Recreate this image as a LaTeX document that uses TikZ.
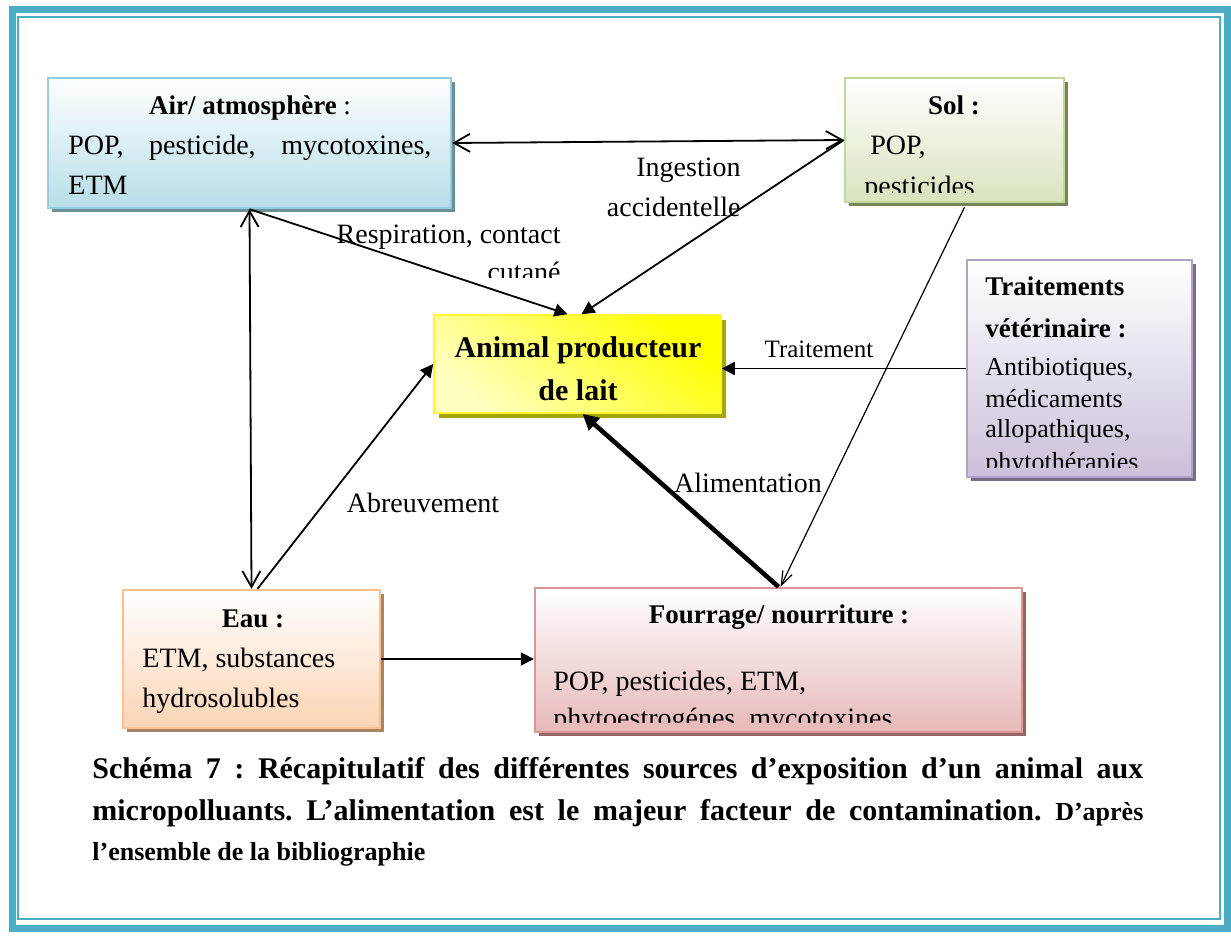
\documentclass[tikz,border=0pt]{standalone}
\usepackage{fontspec}
\setmainfont{Liberation Serif}
\usetikzlibrary{arrows.meta,fit,shadows}
\frenchspacing

\definecolor{cadre}{HTML}{4BACC6}
\definecolor{airB}{HTML}{93CDDD}\definecolor{airF}{HTML}{B7DEE8}\definecolor{airS}{HTML}{6A8F99}
\definecolor{solB}{HTML}{C3D69B}\definecolor{solF}{HTML}{D7E4BD}\definecolor{solS}{HTML}{77855C}
\definecolor{vetB}{HTML}{B2A1C7}\definecolor{vetF}{HTML}{CCC0DA}\definecolor{vetS}{HTML}{776C85}
\definecolor{eauB}{HTML}{FAC090}\definecolor{eauF}{HTML}{FBD4B4}\definecolor{eauS}{HTML}{A68466}
\definecolor{fouB}{HTML}{D99694}\definecolor{fouF}{HTML}{E6B9B8}\definecolor{fouS}{HTML}{946665}
\definecolor{laitS}{HTML}{A6A600}

\tikzset{
  source/.style={draw=#1B, line width=1.2pt, top color=white, bottom color=#1F, inner sep=0pt,
    general shadow={fill=#1S, shadow xshift=2pt, shadow yshift=-2pt}},
  txt/.style={font=\fontsize{14}{16}\selectfont, inner sep=0pt},
  tit/.style={font=\fontsize{13.5}{16}\selectfont\bfseries, inner sep=0pt},
  petit/.style={font=\fontsize{13}{16}\selectfont, inner sep=0pt},
  legende/.style={font=\fontsize{15}{20}\selectfont\bfseries, inner sep=0pt},
  fl/.style={line width=0.9pt, -{Triangle[length=6.5pt,width=6.5pt]}},
  dbl/.style={line width=0.9pt, {Straight Barb[length=8pt,width=9pt]}-{Straight Barb[length=8pt,width=9pt]}},
  fin/.style={line width=0.6pt, -{Straight Barb[length=7pt,width=5pt]}}
}

\begin{document}
\begin{tikzpicture}[x=0.5pt, y=-0.5pt]
\useasboundingbox (0,0) rectangle (1231,936);
\draw[cadre, line width=3.5pt] (12,9.5) rectangle (1227,928);
\draw[cadre, line width=1pt] (18,17) rectangle (1220,919);

% boites
\node[source=air, fit={(48,78) (451,208)}] (air) {};
\node[source=sol, fit={(845,78) (1064,202)}] (sol) {};
\node[source=vet, fit={(967,260) (1192,477)}] (vet) {};
\node[source=eau, fit={(123,590) (380,728)}] (eau) {};
\node[source=fou, fit={(535,588) (1022,732)}] (fourrage) {};
\node[fit={(434,315) (721,413)}, inner sep=0pt, draw=yellow!80!white, line width=0.8pt,
  top color=yellow, bottom color=yellow!25, shading angle=-40,
  general shadow={fill=laitS, shadow xshift=2.5pt, shadow yshift=-2.5pt}] (animal) {};

% textes des boites
\node[tit, anchor=base] (airT) at (250,115) {Air/ atmosphère \mdseries:};
\node[txt, anchor=base west] (airA) at (68,155) {\makebox[181.5pt][s]{POP, pesticide, mycotoxines,}};
\node[txt, anchor=base west] (airB) at (68,195) {ETM};

\node[tit, anchor=base] (solT) at (954,115) {Sol :};
\node[txt, anchor=base west] (solA) at (870,155) {POP,};
\begin{scope}
  \clip (sol.north west) rectangle ([yshift=5.5pt]sol.south east);
  \node[txt, anchor=base west] (solB) at (864,196) {pesticides};
\end{scope}

\node[tit, anchor=base west] (vetT) at (985,295) {Traitements};
\node[tit, anchor=base west] (vetU) at (985,337) {vétérinaire :};
\node[petit, anchor=base west] (vetA) at (985,375) {Antibiotiques,};
\node[petit, anchor=base west] (vetB) at (985,407) {médicaments};
\node[petit, anchor=base west] (vetC) at (985,437) {allopathiques,};
\begin{scope}
  \clip (vet.north west) rectangle ([yshift=5.5pt]vet.south east);
  \node[petit, anchor=base west] (vetD) at (985,470) {phytothérapies};
\end{scope}

\node[font=\fontsize{15}{18}\selectfont\bfseries, inner sep=0pt, anchor=base] (laitA) at (578,357) {Animal producteur};
\node[font=\fontsize{15}{18}\selectfont\bfseries, inner sep=0pt, anchor=base] (laitB) at (578,400) {de lait};

\node[tit, anchor=base] (eauT) at (253,627) {Eau :};
\node[txt, anchor=base west] (eauA) at (142,667) {ETM, substances};
\node[txt, anchor=base west] (eauB) at (142,707) {hydrosolubles};

\node[tit, anchor=base] (fouT) at (779,623) {Fourrage/ nourriture :};
\node[txt, anchor=base west] (fouA) at (553,690) {POP, pesticides, ETM,};
\begin{scope}
  \clip (fourrage.north west) rectangle ([yshift=5.5pt]fourrage.south east);
  \node[txt, anchor=base west] (fouB) at (553,727) {phytoestrogénes, mycotoxines};
\end{scope}

% fleches
\draw[dbl] (air.east) -- (sol.west);
\draw[fl] (air.south) -- ([xshift=-5pt]animal.north);
\draw[fl] (sol.west) -- ([xshift=2pt]animal.north);
\draw[dbl] (air.south) -- (eau.north);
\draw[fl] ([xshift=3pt]eau.north) -- (animal.west);
\draw[fl] (vet.west) -- (vet.west -| animal.east);
\draw[line width=2.3pt, -{Triangle[length=8pt,width=8pt]}] (fourrage.north) -- ([xshift=2.5pt]animal.south);
\draw[fin] ([xshift=5pt,yshift=-2pt]sol.south) -- ([xshift=1pt]fourrage.north);
\draw[fl] (eau.east) -- (eau.east -| fourrage.west);

% etiquettes
\node[txt, anchor=base east] (resp) at (561,243) {Respiration, contact};
\begin{scope}
  \clip (300,230) rectangle (600,278);
  \node[txt, anchor=base east] (cut) at (561,282) {cutané};
\end{scope}
\node[txt, anchor=base east] (ing) at (741,177) {Ingestion};
\node[txt, anchor=base east] (acc) at (741,217) {accidentelle};
\node[font=\fontsize{12.5}{15}\selectfont, inner sep=0pt, anchor=base] (trt) at (819,357) {Traitement};
\node[txt, anchor=base] (abr) at (423,512) {Abreuvement};
\node[txt, anchor=base] (ali) at (748,492) {Alimentation};

% legende
\node[legende, anchor=base west] (capA) at (92,778) {\makebox[525.5pt][s]{Schéma 7 : Récapitulatif des différentes sources d’exposition d’un animal aux}};
\node[legende, anchor=base west] (capB) at (92,820) {\makebox[525.5pt][s]{micropolluants. L’alimentation est le majeur facteur de contamination. {\fontsize{13}{16}\selectfont D’après}}};
\node[legende, anchor=base west, font=\fontsize{13}{16}\selectfont\bfseries] (capC) at (92,860) {l’ensemble de la bibliographie};
\end{tikzpicture}
\end{document}
